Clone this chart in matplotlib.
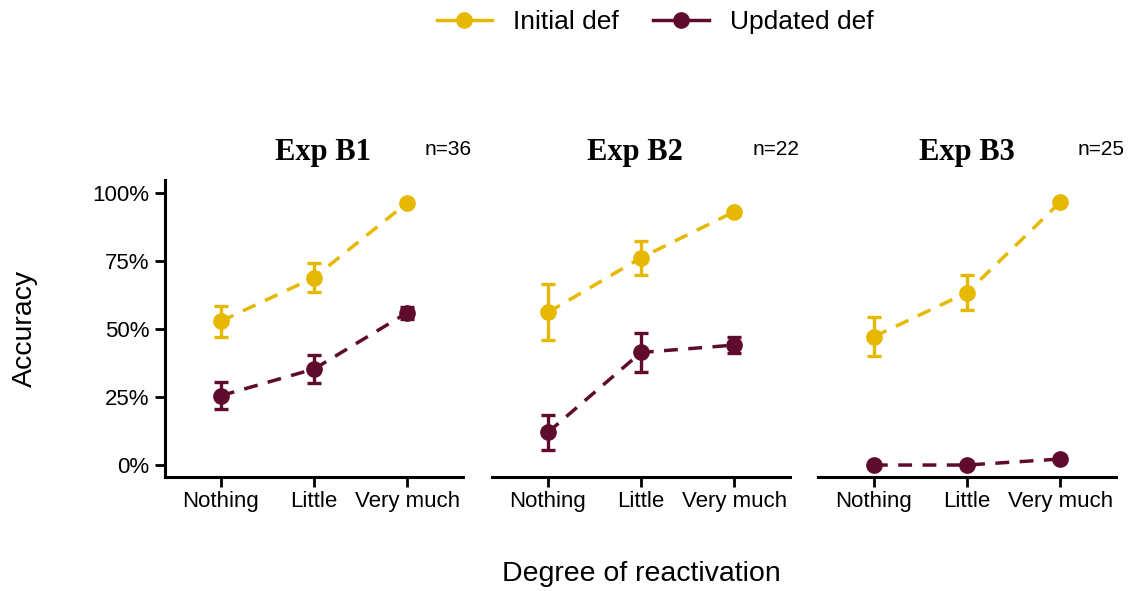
import matplotlib.pyplot as plt
from matplotlib.lines import Line2D
from matplotlib.ticker import FuncFormatter

plt.rcParams['font.family'] = ['Liberation Sans', 'DejaVu Sans']

levels = ['Nothing', 'Little', 'Very much']
experiments = ['Exp B1', 'Exp B2', 'Exp B3']
sample_sizes = ['n=36', 'n=22', 'n=25']

# accuracy in %, one list per experiment
initial_mean = [[52.9, 68.9, 96.4], [56.1, 76.2, 93.1], [47.2, 63.4, 96.6]]
initial_err = [[5.7, 5.4, 0.8], [10.3, 6.3, 1.2], [7.2, 6.5, 0.8]]
updated_mean = [[25.5, 35.3, 56.0], [12.0, 41.4, 44.1], [0.0, 0.0, 2.2]]
updated_err = [[5.0, 5.3, 2.2], [6.4, 7.2, 3.0], [0.0, 0.0, 0.0]]

gold = '#E7B800'
maroon = '#5E0B2E'

fig = plt.figure(figsize=(11.29, 5.91), dpi=100)
lefts = [165, 492, 818]
x = [1, 2, 3]

for i, left in enumerate(lefts):
    ax = fig.add_axes([left / 1129, 1 - 477 / 591, 298 / 1129, 297 / 591])
    for mean, err, col in [(initial_mean[i], initial_err[i], gold),
                           (updated_mean[i], updated_err[i], maroon)]:
        ax.errorbar(x, mean, yerr=err, color=col, ecolor=col, elinewidth=2.4,
                    capsize=5, capthick=2.4, linestyle='none', zorder=2)
        ax.plot(x, mean, color=col, linewidth=2.5, dashes=(4, 3),
                marker='o', markersize=11, zorder=3)
    ax.set_xlim(0.4, 3.6)
    ax.set_ylim(-4.4, 104.8)
    ax.set_xticks(x)
    ax.set_xticklabels(levels, fontsize=16)
    for s in ['top', 'right']:
        ax.spines[s].set_visible(False)
    ax.spines['bottom'].set_linewidth(2.2)
    ax.spines['left'].set_linewidth(2.2)
    ax.tick_params(axis='x', length=7, width=2, pad=3)
    if i == 0:
        ax.set_yticks([0, 25, 50, 75, 100])
        ax.yaxis.set_major_formatter(FuncFormatter(lambda v, p: f'{v:.0f}%'))
        ax.tick_params(axis='y', length=7, width=2, labelsize=16, pad=4)
    else:
        ax.spines['left'].set_visible(False)
        ax.set_yticks([])
    ax.text(0.5 + (0.03 if i == 0 else -0.02 if i == 1 else 0), 1.043, experiments[i],
            transform=ax.transAxes, ha='center', va='bottom',
            fontsize=22, fontweight='bold', family='Liberation Serif')
    ax.text(1.03, 1.07, sample_sizes[i], transform=ax.transAxes,
            ha='right', va='bottom', fontsize=15)

fig.text(0.022, 1 - 328 / 591, 'Accuracy', rotation=90, ha='center', va='center', fontsize=20.5)
fig.text(641 / 1129, 1 - 574 / 591, 'Degree of reactivation', ha='center', va='center', fontsize=20.5)

handles = [Line2D([], [], color=gold, linewidth=2.5, marker='o', markersize=11),
           Line2D([], [], color=maroon, linewidth=2.5, marker='o', markersize=11)]
fig.legend(handles, ['Initial def', 'Updated def'], loc='center', ncol=2,
           bbox_to_anchor=(655 / 1129, 1 - 22 / 591), frameon=False, fontsize=19,
           handlelength=2.1, columnspacing=1.3)

fig.savefig('out.png', dpi=100)
